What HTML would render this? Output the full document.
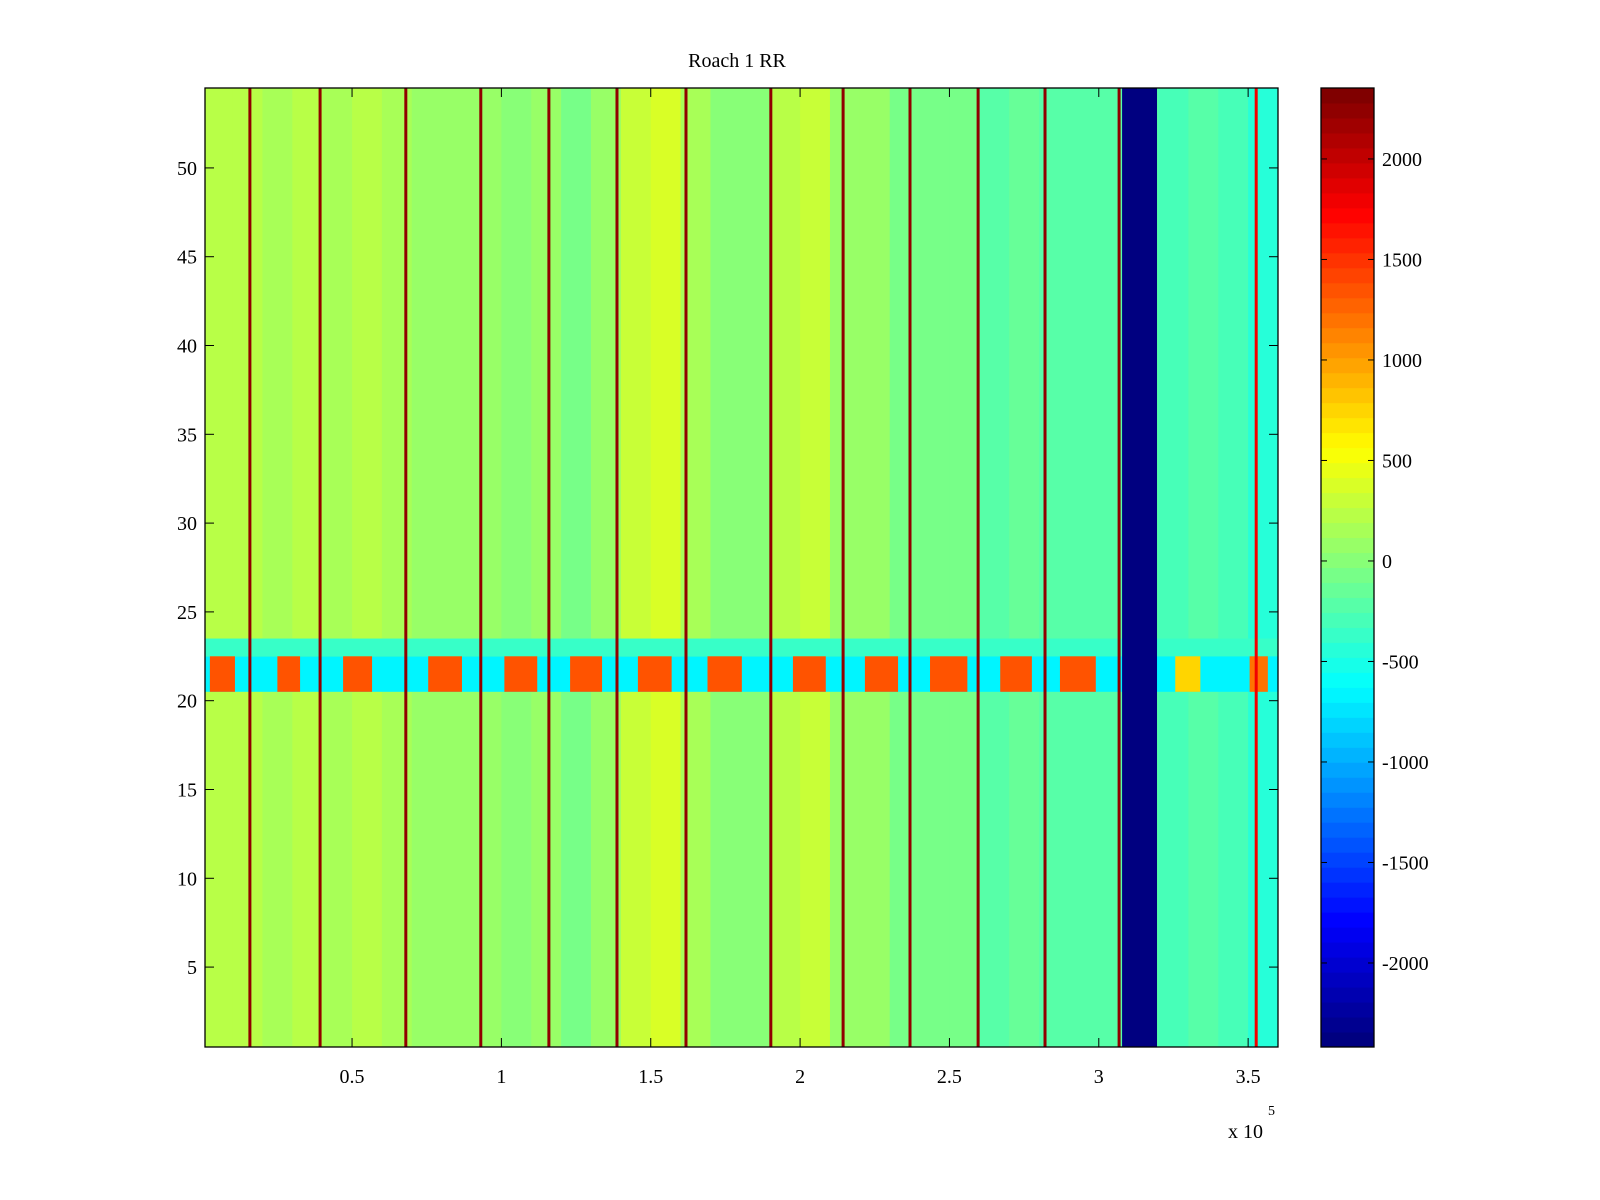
<!DOCTYPE html>
<html><head><meta charset="utf-8"><style>
html,body{margin:0;padding:0;background:#fff;width:1600px;height:1200px;overflow:hidden}
svg text{font-family:"Liberation Serif",serif;font-size:20px;fill:#000}
</style></head><body>
<svg id="chart" width="1600" height="1200" xmlns="http://www.w3.org/2000/svg">
<rect width="1600" height="1200" fill="#fff"/>
<text x="737" y="67" text-anchor="middle">Roach 1 RR</text>
<g id="cells"></g>
<g id="cbar"></g>
<g id="axes"></g>
<text x="1228" y="1138">x 10</text>
<text x="1268" y="1115" font-size="14" style="font-size:14px">5</text>
</svg>
<script>
// ---- data (x in thousands) ----
const binStart = [0,10,20,30,40,50,60,70,80,90,100,110,120,130,140,150,160,170,180,190,200,210,220,230,240,250,260,270,280,290,300,320,330,340,350];
const binValue = [200,200,150,200,150,200,150,100,50,50,0,100,-50,50,300,400,150,0,0,200,300,100,50,-50,-100,-100,-200,-150,-200,-250,-250,-300,-250,-300,-450];
const stripeX = [15.8,39.3,68.0,93.1,115.9,138.7,161.8,190.2,214.4,236.8,259.6,282,306.8,352.7];
const stripeValue = [2300,2300,2300,2300,2300,2300,2300,2300,2300,2300,2300,2300,2300,1800];
const blueBand = [307.8,319.5];
const burstStart = [2.4,25,47,75.5,101,123,145.7,169,197.6,221.7,243.5,267,287,325.6,350.5];
const burstEnd   = [10.8,32.6,56.7,86.8,112,133.7,157,180.5,208.6,232.8,256,277.6,299,334,356.6];
const burstValue = [1400,1400,1400,1400,1400,1400,1400,1400,1400,1400,1400,1400,1400,800,1200];
const bandBase = -700;
const row23Value = -350;
const yTicks = [5,10,15,20,25,30,35,40,45,50];
const xTicks = [0.5,1,1.5,2,2.5,3,3.5];
const cTicks = [2000,1500,1000,500,0,-500,-1000,-1500,-2000];
const cMin = -2418, cMax = 2353, nRows = 54;

// ---- scales ----
const L=205,R=1278,T=88,B=1047;
const xs = v => L + (v-0.77)/(360-0.77)*(R-L);
const ys = v => B - (v-0.5)/(nRows)*(B-T);
const cs = v => B - (v-cMin)/(cMax-cMin)*(B-T);
function jet(v){
  let t=(v-cMin)/(cMax-cMin); t=Math.max(0,Math.min(1,t));
  t=Math.round(t*63)/63;
  const c=x=>Math.round(255*Math.max(0,Math.min(1,x)));
  return `rgb(${c(1.5-Math.abs(4*t-3))},${c(1.5-Math.abs(4*t-2))},${c(1.5-Math.abs(4*t-1))})`;
}
const NS="http://www.w3.org/2000/svg";
function mk(tag,attrs,parent){const e=document.createElementNS(NS,tag);for(const k in attrs)e.setAttribute(k,attrs[k]);parent.appendChild(e);return e;}
const cells=document.getElementById('cells');
binStart.forEach((s,i)=>{
  const e=(i+1<binStart.length)?binStart[i+1]:360;
  const a=Math.max(s,0.77);
  const r=mk('rect',{x:xs(a),y:T,width:xs(e)-xs(a)+0.5,height:B-T,fill:jet(binValue[i])},cells);
  
  
});
const b0=mk('rect',{x:L,y:ys(22.5),width:R-L,height:ys(20.5)-ys(22.5),fill:jet(bandBase)},cells);


const b1=mk('rect',{x:L,y:ys(23.5),width:R-L,height:ys(22.5)-ys(23.5),fill:jet(row23Value)},cells);


burstStart.forEach((s,i)=>{
  const r=mk('rect',{x:xs(s),y:ys(22.5),width:xs(burstEnd[i])-xs(s),height:ys(20.5)-ys(22.5),fill:jet(burstValue[i])},cells);
  
  
});
stripeX.forEach((s,i)=>{
  const r=mk('rect',{x:xs(s)-1.5,y:T,width:3,height:B-T,fill:jet(stripeValue[i])},cells);
  
  
});
const bb=mk('rect',{x:xs(blueBand[0]),y:T,width:xs(blueBand[1])-xs(blueBand[0]),height:B-T,fill:jet(cMin)},cells);



const ax=document.getElementById('axes');
mk('rect',{x:L,y:T,width:R-L,height:B-T,fill:'none',stroke:'#000','stroke-width':1.3},ax);
yTicks.forEach(v=>{
  const y=ys(v);
  mk('line',{x1:L,x2:L+9,y1:y,y2:y,stroke:'#000'},ax);
  mk('line',{x1:R,x2:R-9,y1:y,y2:y,stroke:'#000'},ax);
  const t=mk('text',{x:L-8,y:y+7,'text-anchor':'end'},ax);t.textContent=v;
  
  
});
xTicks.forEach(v=>{
  const x=xs(v*100);
  mk('line',{x1:x,x2:x,y1:B,y2:B-9,stroke:'#000'},ax);
  mk('line',{x1:x,x2:x,y1:T,y2:T+9,stroke:'#000'},ax);
  const t=mk('text',{x:x,y:B+36,'text-anchor':'middle'},ax);t.textContent=v;
  
  
});
const cb=document.getElementById('cbar');
const CL=1321,CR=1374;
for(let i=0;i<64;i++){
  const v0=cMin+(cMax-cMin)*i/64, v1=cMin+(cMax-cMin)*(i+1)/64;
  const r=mk('rect',{x:CL,y:cs(v1),width:CR-CL,height:cs(v0)-cs(v1)+0.5,fill:jet((v0+v1)/2)},cb);
  
  
}
mk('rect',{x:CL,y:T,width:CR-CL,height:B-T,fill:'none',stroke:'#000','stroke-width':1.3},cb);
cTicks.forEach(v=>{
  const y=cs(v);
  mk('line',{x1:CL,x2:CL+6,y1:y,y2:y,stroke:'#000'},cb);
  mk('line',{x1:CR,x2:CR-6,y1:y,y2:y,stroke:'#000'},cb);
  const t=mk('text',{x:CR+8,y:y+7},cb);t.textContent=v;
  
  
});
</script>
</body></html>
